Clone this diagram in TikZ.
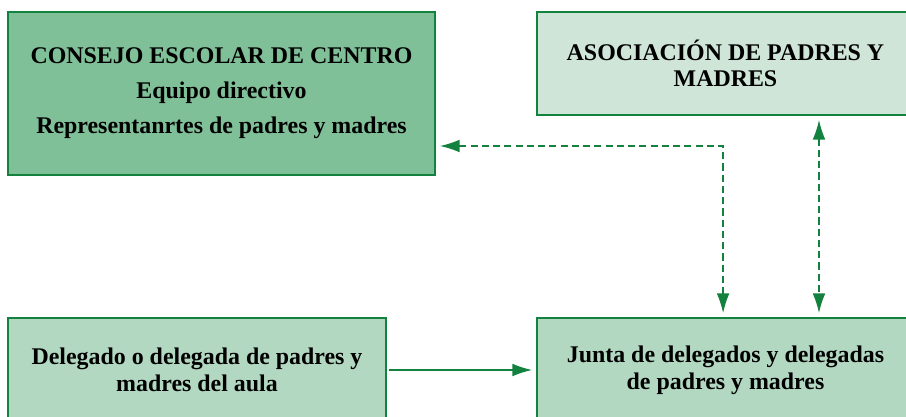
\documentclass[tikz,border=0pt]{standalone}
\usepackage{fontspec}
\setmainfont{Liberation Serif}
\definecolor{boxdark}{RGB}{128, 192, 152}
\definecolor{boxmid}{RGB}{178, 216, 194}
\definecolor{boxlight}{RGB}{206, 229, 216}
\definecolor{linegreen}{RGB}{18, 130, 62}
\usetikzlibrary{arrows.meta, positioning, calc}

\begin{document}
\begin{tikzpicture}[
  organ/.style={draw=linegreen, line width=0.9pt, inner sep=0pt, align=center, font=\fontsize{17}{19}\selectfont\bfseries},
  edge/.style={line width=1.1pt, linegreen, -{Latex[length=14pt, width=9pt]}},
  dedge/.style={edge, {Latex[length=14pt, width=9pt]}-{Latex[length=14pt, width=9pt]}, dash pattern=on 5pt off 3pt}
]
  \useasboundingbox (0, 0) rectangle (22.65, -10.425);
  \clip (0, 0) rectangle (22.65, -10.425);

  % Top row
  \node[organ, fill=boxdark, minimum width=10.675cm, minimum height=4.075cm] (consejo) at (5.5375, -2.3375)
    {CONSEJO ESCOLAR DE CENTRO\\[6pt]Equipo directivo\\[6pt]Representanrtes de padres y madres};
  \node[organ, fill=boxlight, minimum width=9.425cm, minimum height=2.575cm] (asoc) at (18.1375, -1.5875)
    {ASOCIACIÓN DE PADRES Y\\MADRES};

  % Bottom row
  \node[organ, fill=boxmid, minimum width=9.45cm, minimum height=2.6cm] (aula) at (4.925, -9.25)
    {Delegado o delegada de padres y\\madres del aula};
  \node[organ, fill=boxmid, minimum width=9.425cm, minimum height=2.6cm] (junta) at (18.1375, -9.25)
    {Junta de delegados y delegadas\\de padres y madres};

  % Links
  \coordinate (link) at (20.475, 0);
  \draw[edge, shorten <=2pt, shorten >=3pt] (aula) -- (junta);
  \draw[dedge, shorten <=3pt, shorten >=3pt] ([xshift=-0.06cm]junta.north) |- ([yshift=-1.3125cm]consejo.east);
  \draw[dedge, shorten <=3pt, shorten >=3pt] (asoc.south -| link) -- (junta.north -| link);
\end{tikzpicture}
\end{document}
